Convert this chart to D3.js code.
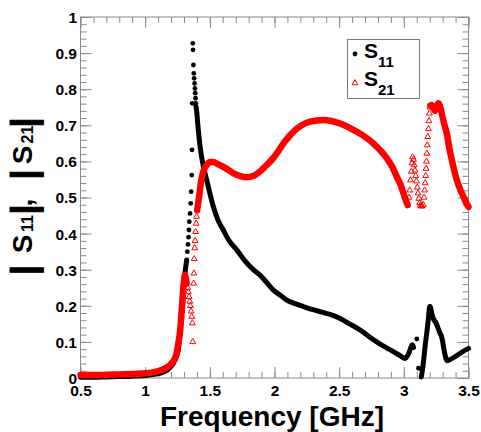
<!DOCTYPE html>
<html><head><meta charset="utf-8">
<script src="https://cdn.jsdelivr.net/npm/d3@7"></script>
<style>
html,body{margin:0;padding:0;background:#fff;}
svg{display:block;font-family:"Liberation Sans",Arial,sans-serif;font-weight:bold;}
</style></head>
<body>
<svg id="chart" width="481" height="432"></svg>
<script>
// ---------- data ----------
const xTickValues = [0.5, 1, 1.5, 2, 2.5, 3, 3.5];
const xTickLabels = ["0.5", "1", "1.5", "2", "2.5", "3", "3.5"];
const yTickValues = [0, 0.1, 0.2, 0.3, 0.4, 0.5, 0.6, 0.7, 0.8, 0.9, 1];
const yTickLabels = ["0", "0.1", "0.2", "0.3", "0.4", "0.5", "0.6", "0.7", "0.8", "0.9", "1"];
const seriesNames = ["S11", "S21"];

// |S11| : continuous runs (frequency GHz, magnitude)
const s11Runs = [
  [[0.5,0.002],[0.6,0.002],[0.7,0.003],[0.8,0.004],[0.9,0.005],[1.0,0.007],[1.05,0.009],[1.1,0.012],
   [1.15,0.018],[1.18,0.025],[1.2,0.032],[1.22,0.042],[1.24,0.058],[1.256,0.078],[1.269,0.124],
   [1.282,0.18],[1.295,0.235],[1.308,0.29],[1.321,0.327]],
  [[1.393,0.752],[1.398,0.74],[1.404,0.715],[1.411,0.687],[1.42,0.655],[1.437,0.611],[1.455,0.578],
   [1.476,0.548],[1.5,0.512],[1.527,0.475],[1.56,0.44],[1.604,0.41],[1.65,0.38],[1.708,0.355],
   [1.77,0.325],[1.836,0.3],[1.888,0.285],[1.95,0.26],[1.99,0.244],[2.05,0.228],[2.095,0.216],
   [2.16,0.206],[2.223,0.198],[2.29,0.19],[2.352,0.184],[2.43,0.176],[2.507,0.165],[2.58,0.15],
   [2.662,0.133],[2.73,0.115],[2.79,0.1],[2.86,0.085],[2.919,0.073],[2.97,0.062],[3.01,0.054],
   [3.025,0.06],[3.04,0.07],[3.055,0.085],[3.065,0.092],[3.075,0.085]],
  [[3.135,0.003],[3.145,0.025],[3.155,0.055],[3.165,0.09],[3.177,0.124],[3.19,0.165],[3.2,0.198],
   [3.205,0.198],[3.215,0.18],[3.23,0.163],[3.245,0.155],[3.26,0.143],[3.275,0.128],[3.294,0.112],
   [3.31,0.08],[3.325,0.055],[3.335,0.048],[3.352,0.05],[3.4,0.06],[3.45,0.072],[3.5,0.082]]
];
// |S11| : isolated samples
const s11Dots = [
  [1.326,0.35],[1.331,0.37],[1.335,0.39],[1.338,0.41],[1.341,0.433],[1.347,0.456],[1.352,0.484],
  [1.356,0.516],[1.36,0.562],[1.362,0.632],[1.364,0.761],[1.368,0.927],[1.37,0.909],[1.373,0.867],
  [1.376,0.844],[1.379,0.83],[1.382,0.816],[1.385,0.802],[1.387,0.789],[1.389,0.775],[1.391,0.761],
  [3.1,0.108],[3.113,0.027]
];

// |S21| : continuous runs
const s21Runs = [
  [[0.5,0.008],[0.6,0.008],[0.7,0.009],[0.8,0.01],[0.9,0.011],[1.0,0.013],[1.05,0.015],[1.1,0.019],
   [1.15,0.026],[1.19,0.035],[1.21,0.043],[1.231,0.055],[1.244,0.07],[1.256,0.095],[1.27,0.13],
   [1.283,0.188],[1.295,0.25],[1.302,0.275],[1.308,0.285],[1.315,0.275],[1.321,0.262]],
  [[1.402,0.465],[1.41,0.484],[1.42,0.51],[1.43,0.539],[1.44,0.558],[1.45,0.572],[1.476,0.59],
   [1.5,0.598],[1.527,0.598],[1.56,0.593],[1.604,0.585],[1.65,0.575],[1.682,0.567],[1.73,0.56],
   [1.785,0.556],[1.84,0.56],[1.888,0.572],[1.94,0.59],[1.99,0.609],[2.017,0.622],[2.08,0.655],
   [2.146,0.682],[2.21,0.7],[2.275,0.71],[2.378,0.715],[2.44,0.712],[2.507,0.705],[2.57,0.695],
   [2.636,0.682],[2.7,0.668],[2.764,0.65],[2.814,0.632],[2.868,0.609],[2.91,0.585],[2.945,0.558],
   [2.975,0.535],[2.997,0.512],[3.015,0.493],[3.03,0.479]],
  [[3.205,0.755],[3.215,0.756],[3.228,0.748],[3.242,0.74],[3.255,0.752],[3.267,0.761],[3.28,0.752],
   [3.295,0.73],[3.315,0.7],[3.332,0.678],[3.35,0.64],[3.371,0.604],[3.39,0.575],[3.41,0.548],
   [3.435,0.523],[3.461,0.502],[3.48,0.487],[3.5,0.474]]
];
// |S21| : isolated samples
const s21Dots = [
  [1.328,0.25],[1.334,0.238],[1.34,0.225],[1.345,0.212],[1.35,0.2],[1.355,0.185],[1.36,0.17],
  [1.365,0.152],[1.368,0.1],[1.375,0.262],[1.377,0.29],[1.379,0.33],[1.383,0.36],[1.386,0.38],
  [1.39,0.405],[1.394,0.428],[1.398,0.447],
  [3.04,0.5],[3.046,0.52],[3.052,0.548],[3.058,0.572],[3.063,0.595],[3.068,0.612],[3.074,0.605],
  [3.08,0.59],[3.086,0.575],[3.092,0.56],[3.098,0.545],[3.104,0.528],[3.11,0.512],[3.116,0.497],
  [3.122,0.485],[3.128,0.478],[3.135,0.476],[3.142,0.476],[3.15,0.48],[3.156,0.5],[3.161,0.52],
  [3.165,0.54],[3.169,0.56],[3.172,0.58],[3.175,0.6],[3.178,0.622],[3.181,0.645],[3.185,0.668],
  [3.19,0.69],[3.194,0.712],[3.198,0.733],[3.202,0.75]
];

// ---------- drawing ----------
const svg = d3.select("#chart");
const L = 80.5, R = 468.5, T = 17, B = 378;
const x = d3.scaleLinear().domain([0.5, 3.5]).range([L, R]);
const y = d3.scaleLinear().domain([0, 1]).range([B, T]);
const frameColor = "#8a8a8a";

function styleAxis(g){
  g.select(".domain").remove();
  g.selectAll(".tick line").attr("stroke", frameColor).attr("stroke-width", 1);
}
// minor ticks
const xMinor = x.ticks(30), yMinor = y.ticks(50);
svg.append("g").attr("transform",`translate(0,${B})`)
  .call(d3.axisBottom(x).tickValues(xMinor).tickSize(-6).tickFormat("")).call(styleAxis);
svg.append("g").attr("transform",`translate(0,${T})`)
  .call(d3.axisTop(x).tickValues(xMinor).tickSize(-6).tickFormat("")).call(styleAxis);
svg.append("g").attr("transform",`translate(${L},0)`)
  .call(d3.axisLeft(y).tickValues(yMinor).tickSize(-6).tickFormat("")).call(styleAxis);
svg.append("g").attr("transform",`translate(${R},0)`)
  .call(d3.axisRight(y).tickValues(yMinor).tickSize(-6).tickFormat("")).call(styleAxis);
// major ticks
const xb = svg.append("g").attr("transform",`translate(0,${B})`)
  .call(d3.axisBottom(x).tickValues(xTickValues).tickSize(-11)
    .tickFormat((d,i)=>xTickLabels[i])).call(styleAxis);
svg.append("g").attr("transform",`translate(0,${T})`)
  .call(d3.axisTop(x).tickValues(xTickValues).tickSize(-11).tickFormat("")).call(styleAxis);
const yl = svg.append("g").attr("transform",`translate(${L},0)`)
  .call(d3.axisLeft(y).tickValues(yTickValues).tickSize(-11)
    .tickFormat((d,i)=>yTickLabels[i])).call(styleAxis);
svg.append("g").attr("transform",`translate(${R},0)`)
  .call(d3.axisRight(y).tickValues(yTickValues).tickSize(-11).tickFormat("")).call(styleAxis);

xb.selectAll(".tick text").attr("font-size",15.5).attr("font-weight","bold")
  .attr("font-family","Liberation Sans, Arial, sans-serif").attr("fill","#000")
  .attr("y",18).attr("dy",0);
yl.selectAll(".tick text").attr("font-size",15.5).attr("font-weight","bold")
  .attr("font-family","Liberation Sans, Arial, sans-serif").attr("fill","#000")
  .attr("x",-3.5).attr("dy","0.35em");

// frame
svg.append("rect").attr("x",L).attr("y",T).attr("width",R-L).attr("height",B-T)
  .attr("fill","none").attr("stroke",frameColor).attr("stroke-width",1);

// series drawing
const line = d3.line().x(d=>x(d[0])).y(d=>y(d[1])).curve(d3.curveMonotoneX);
const tri = d3.symbol().type(d3.symbolTriangle).size(15);

const gS11 = svg.append("g");
s11Runs.forEach(run=>{
  gS11.append("path").attr("d",line(run)).attr("fill","none").attr("stroke","#000")
    .attr("stroke-width",5).attr("stroke-linejoin","round").attr("stroke-linecap","round");
});
gS11.selectAll("circle").data(s11Dots).join("circle")
  .attr("cx",d=>x(d[0])).attr("cy",d=>y(d[1])).attr("r",2.4).attr("fill","#000");

const gS21 = svg.append("g");
s21Runs.forEach(run=>{
  gS21.append("path").attr("d",line(run)).attr("fill","none").attr("stroke","#ff0000")
    .attr("stroke-width",6.5).attr("stroke-linejoin","round").attr("stroke-linecap","round");
});
gS21.selectAll("path.tri").data(s21Dots).join("path").attr("class","tri")
  .attr("d",tri).attr("transform",d=>`translate(${x(d[0])},${y(d[1])})`)
  .attr("fill","none").attr("stroke","#ff0000").attr("stroke-width",1);

// legend
const lg = svg.append("g");
lg.append("rect").attr("x",347.5).attr("y",39.5).attr("width",72).attr("height",59)
  .attr("fill","#fff").attr("stroke","#777").attr("stroke-width",1);
lg.append("circle").attr("cx",355).attr("cy",54).attr("r",2.4).attr("fill","#000");
lg.append("path").attr("d",tri).attr("transform","translate(355,83)")
  .attr("fill","none").attr("stroke","#ff0000").attr("stroke-width",1);
[[seriesNames[0],58],[seriesNames[1],86]].forEach(([name,by])=>{
  const t = lg.append("text").attr("x",364).attr("y",by).attr("fill","#000")
    .attr("font-size",21).attr("font-weight","bold");
  t.append("tspan").text(name.slice(0,1));
  t.append("tspan").attr("font-size",15).attr("dy",9).text(name.slice(1));
});

// axis titles
svg.append("text").attr("x",272).attr("y",426).attr("text-anchor","middle")
  .attr("font-size",28).attr("font-weight","bold").attr("fill","#000").text("Frequency [GHz]");

// y title: |S11|,  |S21|  (pieces placed along the rotated baseline)
const yt = svg.append("g").attr("transform","translate(32,0) rotate(-90)");
const yTitleParts = [
  {t:"|",  c:270,   s:35, b:3.6},
  {t:"S",  c:244,   s:28, b:0},
  {t:"11", c:223.5, s:16, b:1},
  {t:"|",  c:209.5, s:35, b:3.6},
  {t:",",  c:202.5, s:28, b:0},
  {t:"|",  c:174.5, s:35, b:3.6},
  {t:"S",  c:155,   s:28, b:0},
  {t:"21", c:134.5, s:16, b:1},
  {t:"|",  c:122.5, s:35, b:3.6}
];
yTitleParts.forEach(p=>{
  const el = yt.append("text").attr("x",-p.c).attr("y",p.b).attr("text-anchor","middle")
    .attr("font-size",p.s).attr("font-weight","bold").attr("fill","#000").text(p.t);
  if (p.t === "|") el.attr("stroke","#000").attr("stroke-width",1);
});
</script>
</body></html>
